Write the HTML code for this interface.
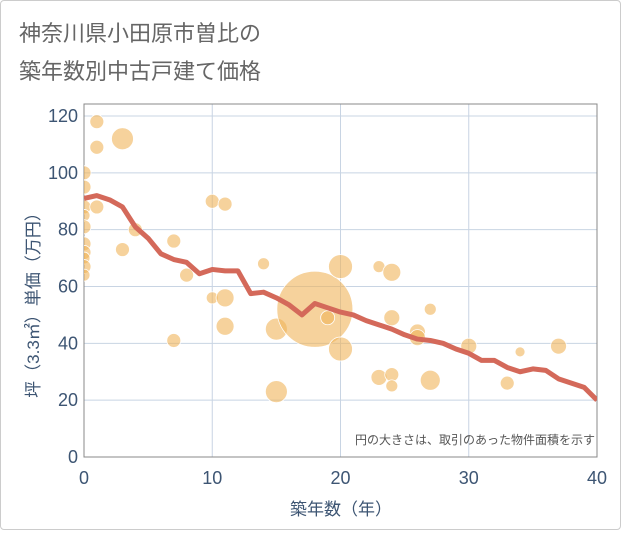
<!DOCTYPE html>
<html><head><meta charset="utf-8"><style>
body{margin:0;background:#fff;}
#card{position:absolute;left:0;top:0;width:619px;height:528px;border:1px solid #ccc;border-radius:4px;background:#fff;}
svg text{font-family:"Liberation Sans","Noto Sans CJK JP",sans-serif;}
</style></head><body>
<div id="card">
<svg id="chart" width="621" height="530">
<defs><clipPath id="plotclip"><rect x="83" y="103" width="513" height="353"/></clipPath></defs>
<text x="18" y="40" font-size="22" fill="#666">神奈川県小田原市曽比の</text>
<text x="18" y="78" font-size="22" fill="#666">築年数別中古戸建て価格</text>
</svg>
</div>
<script>
const xTicks=[0,10,20,30,40];
const yTicks=[0,20,40,60,80,100,120];
const lineX=[0,1,2,3,4,5,6,7,8,9,10,11,12,13,14,15,16,17,18,19,20,21,22,23,24,25,26,27,28,29,30,31,32,33,34,35,36,37,38,39,40];
const lineY=[91,92,90.5,88,81,77,71.5,69.5,68.5,64.5,66,65.5,65.5,57.5,58,56,53.5,50,54,52.5,51,50,48,46.5,45,43,41.5,41,40,38,36.5,34,34,31.5,30,31,30.5,27.5,26,24.5,20];
const bubbleX=[0,0,0,0,0,0,0,0,0,0,1,1,1,3,3,4,7,7,8,10,11,10,11,11,14,15,15,18,19,20,20,23,24,24,26,26,27,30,23,24,24,27,33,34,37];
const bubbleY=[100,95,88,85,81,75,72,70,67,64,118,109,88,112,73,80,76,41,64,90,89,56,56,46,68,45,23,52,49,67,38,67,65,49,44,42,52,39,28,29,25,27,26,37,39];
const bubbleR=[7,7,7,6,7,7,7,6,7,6,7,7,7,11,7,7,7,7,7,7,7,6,9,9,6,11,11,38,7,12,12,6,9,8,8,8,6,8,8,7,6,10,7,5,8];
const L=83,R=596,T=103,B=456;
const sx=v=>L+(R-L)*v/40;
const sy=v=>B-(456-115)*v/120;
const svg=document.getElementById('chart');
const NS='http://www.w3.org/2000/svg';
function mk(tag,attrs,parent){const e=document.createElementNS(NS,tag);for(const k in attrs)e.setAttribute(k,attrs[k]);(parent||svg).appendChild(e);return e;}
xTicks.forEach(t=>{
 const g=mk('line',{x1:sx(t),x2:sx(t),y1:T,y2:B,stroke:'#c8d4e3','stroke-width':1});
 
 
 const tx=mk('text',{x:sx(t),y:483,'font-size':18,fill:'#3d5573','text-anchor':'middle'});
 tx.textContent=t;
 
 
});
yTicks.forEach(t=>{
 const g=mk('line',{x1:L,x2:R,y1:sy(t),y2:sy(t),stroke:'#c8d4e3','stroke-width':1});
 
 
 const tx=mk('text',{x:77,y:sy(t)+6,'font-size':18,fill:'#3d5573','text-anchor':'end'});
 tx.textContent=t;
 
 
});
const frame=mk('rect',{x:L,y:T,width:R-L,height:B-T,fill:'none',stroke:'#888','stroke-width':1});


const plot=mk('g',{'clip-path':'url(#plotclip)'});


bubbleX.forEach((v,i)=>{
 const c=mk('circle',{cx:sx(v),cy:sy(bubbleY[i]),r:bubbleR[i],fill:'rgba(240,180,90,0.6)',stroke:'#fff','stroke-width':0.8},plot);
 
 
});
const pts=lineX.map((v,i)=>sx(v)+','+sy(lineY[i])).join(' ');
const pl=mk('polyline',{points:pts,fill:'none',stroke:'#d4695a','stroke-width':5,'stroke-linejoin':'round'},plot);


const note=mk('text',{x:594,y:443,'font-size':12,fill:'#555','text-anchor':'end'});
note.textContent='円の大きさは、取引のあった物件面積を示す';


const xt=mk('text',{x:340,y:514,'font-size':17,fill:'#3d5573','text-anchor':'middle'});
xt.textContent='築年数（年）';


const yt=mk('text',{x:0,y:0,'font-size':17,fill:'#3d5573','text-anchor':'middle',transform:'translate(38,300) rotate(-90)'});
yt.textContent='坪（3.3㎡）単価（万円）';


</script>
</body></html>
